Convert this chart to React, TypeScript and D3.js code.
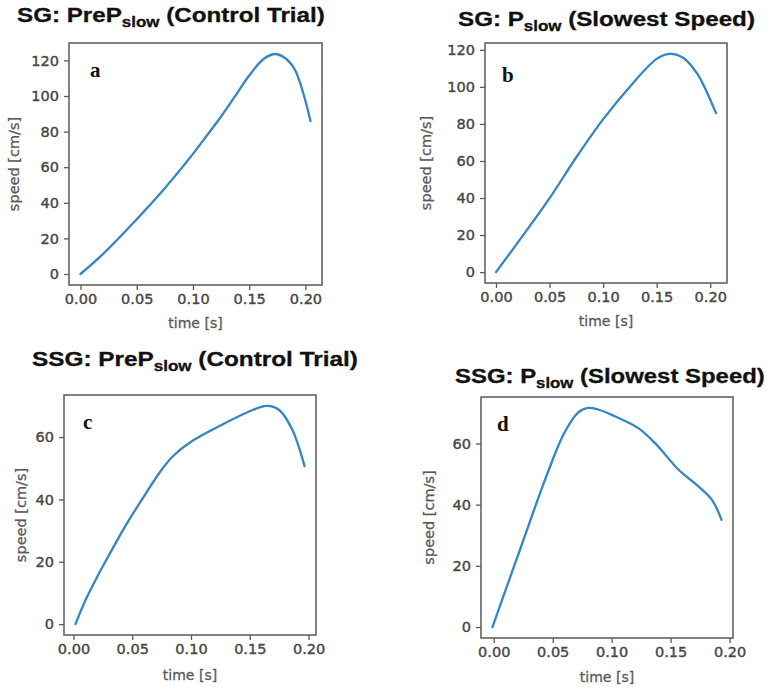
import React, { useEffect, useRef } from 'react'
import * as d3 from 'd3'

// SG group, control trial (PreP slow)
const timeA = [0, 0.018, 0.05, 0.074, 0.1, 0.112, 0.125, 0.137, 0.15, 0.1622, 0.1726, 0.1815, 0.1905, 0.198, 0.2045]
const speedA = [0, 10, 30.8, 47.5, 67.5, 77.5, 88.5, 99.5, 111.5, 120.5, 123.6, 121.5, 114.9, 101.7, 86]

// SG group, slowest speed (P slow)
const timeB = [0, 0.0252, 0.0502, 0.075, 0.1003, 0.1252, 0.15, 0.162, 0.175, 0.188, 0.197, 0.2054]
const speedB = [0, 19.8, 40.1, 62, 82.7, 100.2, 115.1, 117.8, 115.6, 107, 97, 85.8]

// SSG group, control trial
const timeC = [0.0017, 0.01, 0.02, 0.03, 0.045, 0.06, 0.075, 0.085, 0.1, 0.125, 0.15, 0.1645, 0.175, 0.186, 0.1966]
const speedC = [0, 7.5, 15, 22, 32, 41, 49.5, 54, 58.5, 63.7, 68.3, 70, 68.7, 62.5, 50.7]

// SSG group, slowest speed
const timeD = [-0.0011, 0.0228, 0.0456, 0.0598, 0.0713, 0.0798, 0.0884, 0.1026, 0.1226, 0.1368, 0.1568, 0.1738, 0.1852, 0.1932]
const speedD = [0, 25.9, 50.3, 63.4, 70, 71.6, 71.1, 68.9, 65, 60.1, 51.4, 45.9, 41.5, 35]

const timeTicks = [0, 0.05, 0.1, 0.15, 0.2]
const speedTicksHigh = [0, 20, 40, 60, 80, 100, 120]
const speedTicksLow = [0, 20, 40, 60]

const panels = [
  { t: timeA, v: speedA, yTicks: speedTicksHigh, letter: 'a', head: 'SG: PreP', tail: ' (Control Trial)',
    box: { x: 69, y: 43, w: 253, h: 242 }, title: { x0: 17, x1: 325, y: 22 }, yLabelX: 15, xLabelDy: 39, letterAt: [21, 34] },
  { t: timeB, v: speedB, yTicks: speedTicksHigh, letter: 'b', head: 'SG: P', tail: ' (Slowest Speed)',
    box: { x: 485, y: 43, w: 242, h: 240 }, title: { x0: 458, x1: 755, y: 26 }, yLabelX: 427, xLabelDy: 39, letterAt: [17, 39] },
  { t: timeC, v: speedC, yTicks: speedTicksLow, letter: 'c', head: 'SSG: PreP', tail: ' (Control Trial)',
    box: { x: 64, y: 395, w: 252, h: 240 }, title: { x0: 32, x1: 358, y: 366 }, yLabelX: 22, xLabelDy: 41, letterAt: [19, 34] },
  { t: timeD, v: speedD, yTicks: speedTicksLow, letter: 'd', head: 'SSG: P', tail: ' (Slowest Speed)',
    box: { x: 481, y: 397, w: 252, h: 241 }, title: { x0: 455, x1: 765, y: 383 }, yLabelX: 430, xLabelDy: 40, letterAt: [16, 34] },
]

const grey = '#5a5a5a'
const textGrey = '#474747'
const lineBlue = '#3485c3'

// pad a data extent by 5% on each side
function padded(values: number[]): [number, number] {
  const [lo, hi] = d3.extent(values) as [number, number]
  const m = (hi - lo) * 0.05
  return [lo - m, hi + m]
}

export default function App() {
  const ref = useRef<SVGSVGElement>(null)

  useEffect(() => {
    const svg = d3.select(ref.current)
    svg.selectAll('*').remove()

    panels.forEach(p => {
      const { box } = p
      const x = d3.scaleLinear().domain(padded(p.t)).range([box.x, box.x + box.w])
      const y = d3.scaleLinear().domain(padded(p.v)).range([box.y + box.h, box.y])
      const g = svg.append('g')

      // title, stretched to its measured width
      const title = g.append('text')
        .attr('font-family', 'Liberation Sans, Arial, sans-serif')
        .attr('font-weight', 'bold')
        .attr('font-size', 20)
        .attr('fill', '#111')
        .attr('stroke', '#111')
        .attr('stroke-width', 0.3)
      title.append('tspan').text(p.head)
      title.append('tspan').attr('font-size', 14).attr('dy', 5).text('slow')
      title.append('tspan').attr('dy', -5).text(p.tail)
      const w = (title.node() as SVGTextElement).getBBox().width
      title.attr('transform', `translate(${p.title.x0},${p.title.y}) scale(${(p.title.x1 - p.title.x0) / w},1)`)

      const xAxis = g.append('g')
        .attr('transform', `translate(0,${box.y + box.h})`)
        .call(d3.axisBottom(x).tickValues(timeTicks).tickFormat(d3.format('.2f')).tickSize(5).tickPadding(4))
      const yAxis = g.append('g')
        .attr('transform', `translate(${box.x},0)`)
        .call(d3.axisLeft(y).tickValues(p.yTicks).tickFormat(d3.format('d')).tickSize(5).tickPadding(5))
      ;[xAxis, yAxis].forEach(a => {
        a.select('.domain').remove()
        a.selectAll('line').attr('stroke', grey).attr('stroke-width', 1.3)
        a.selectAll('text')
          .attr('font-family', 'DejaVu Sans, sans-serif')
          .attr('font-size', 14.5)
          .attr('fill', textGrey)
          .attr('stroke', textGrey)
          .attr('stroke-width', 0.4)
      })

      g.append('rect')
        .attr('x', box.x).attr('y', box.y).attr('width', box.w).attr('height', box.h)
        .attr('fill', 'none').attr('stroke', grey).attr('stroke-width', 1.5)

      const line = d3.line<number>()
        .x((_, i) => x(p.t[i]))
        .y(d => y(d))
        .curve(d3.curveCatmullRom.alpha(0.5))
      g.append('path')
        .attr('d', line(p.v))
        .attr('fill', 'none')
        .attr('stroke', lineBlue)
        .attr('stroke-width', 2.3)
        .attr('stroke-linecap', 'round')

      g.append('text')
        .attr('x', box.x + p.letterAt[0]).attr('y', box.y + p.letterAt[1])
        .attr('font-family', 'Liberation Serif, Times New Roman, serif')
        .attr('font-weight', 'bold')
        .attr('font-size', 21)
        .attr('fill', '#111')
        .text(p.letter)

      g.append('text')
        .attr('x', box.x + box.w / 2).attr('y', box.y + box.h + p.xLabelDy)
        .attr('text-anchor', 'middle')
        .attr('dominant-baseline', 'middle')
        .attr('font-family', 'DejaVu Sans, sans-serif')
        .attr('font-size', 14)
        .attr('fill', '#5a5a5a')
        .attr('stroke', '#5a5a5a')
        .attr('stroke-width', 0.3)
        .text('time [s]')

      g.append('text')
        .attr('transform', `translate(${p.yLabelX},${box.y + box.h / 2}) rotate(-90)`)
        .attr('text-anchor', 'middle')
        .attr('dominant-baseline', 'middle')
        .attr('font-family', 'DejaVu Sans, sans-serif')
        .attr('font-size', 14.5)
        .attr('fill', '#5a5a5a')
        .attr('stroke', '#5a5a5a')
        .attr('stroke-width', 0.3)
        .text('speed [cm/s]')
    })
  }, [])

  return (
    <svg ref={ref} width={775} height={697}
      style={{ position: 'absolute', left: 0, top: 0, background: '#fff' }} />
  )
}
